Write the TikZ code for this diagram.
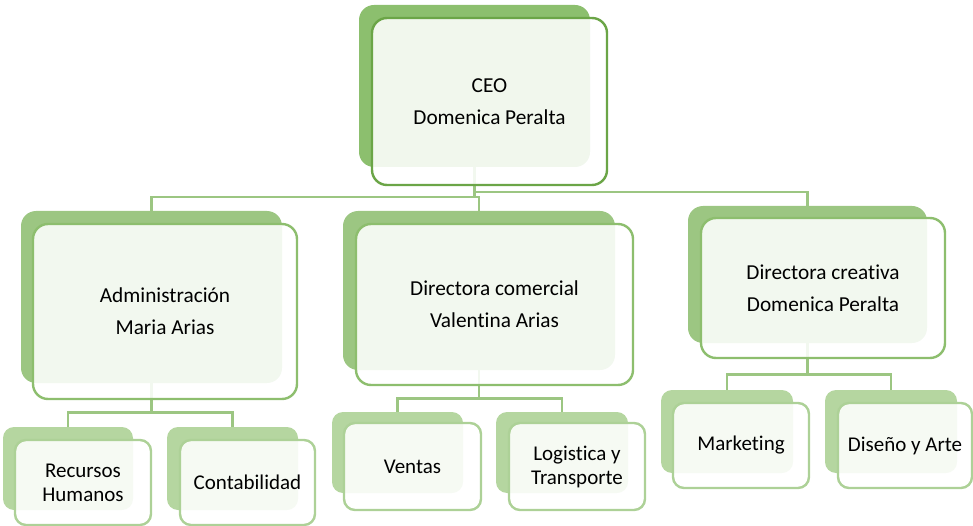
\documentclass[tikz,border=0pt]{standalone}
\usepackage{fontspec}
\setmainfont[Ligatures={NoCommon}]{Carlito}
\definecolor{backA}{HTML}{8CBF6E}
\definecolor{lineA}{HTML}{6BA547}
\definecolor{backB}{HTML}{9CC682}
\definecolor{lineB}{HTML}{8DBE6E}
\definecolor{backC}{HTML}{B5D6A0}
\definecolor{lineC}{HTML}{ADD197}
\definecolor{connC}{HTML}{9CC682}
\tikzset{
  backbox/.style={rectangle, rounded corners=15pt, inner sep=0pt},
  frontbox/.style={rectangle, rounded corners=15pt, fill=white, fill opacity=0.88, text opacity=1, line width=2.4pt, inner sep=0pt, align=center, font=\fontsize{21.3}{32}\selectfont},
  backA/.style={backbox, fill=backA},
  backB/.style={backbox, fill=backB},
  backC/.style={backbox, fill=backC, rounded corners=11pt},
  frontA/.style={frontbox, draw=lineA},
  frontB/.style={frontbox, draw=lineB},
  frontC/.style={frontbox, draw=lineC, rounded corners=11pt, font=\fontsize{21}{24}\selectfont},
  conn/.style={draw=connC, line width=2.6pt}
}
\begin{document}
\begin{tikzpicture}[x=1pt,y=-1pt]
\useasboundingbox (0,0) rectangle (973,526);
% back boxes
\node[backA, minimum width=231, minimum height=162] (ceoB) at (474.5,86) {};
\node[backB, minimum width=261, minimum height=172] (admB) at (151.5,297) {};
\node[backB, minimum width=272, minimum height=159] (comB) at (479,290.5) {};
\node[backB, minimum width=239, minimum height=137] (creB) at (807.5,274.5) {};
\node[backC, minimum width=130, minimum height=83] (rhB) at (68,468.5) {};
\node[backC, minimum width=131, minimum height=83] (conB) at (232.5,468.5) {};
\node[backC, minimum width=131, minimum height=81] (venB) at (397.5,452.5) {};
\node[backC, minimum width=132, minimum height=81] (logB) at (562,452.5) {};
\node[backC, minimum width=132, minimum height=83] (mktB) at (727,431.5) {};
\node[backC, minimum width=132, minimum height=83] (disB) at (891,431.5) {};
% connectors
\draw[conn] (ceoB.south) -- ++(0,30) -| (admB.north);
\draw[conn] (ceoB.south) -- ++(0,30) -| (comB.north);
\draw[conn] (ceoB.south) -- ++(0,25) -| (creB.north);
\draw[conn] (admB.south) -- ++(0,29) -| (rhB.north);
\draw[conn] (admB.south) -- ++(0,29) -| (conB.north);
\draw[conn] (comB.south) -- ++(0,28) -| (venB.north);
\draw[conn] (comB.south) -- ++(0,28) -| (logB.north);
\draw[conn] (creB.south) -- ++(0,31) -| (mktB.north);
\draw[conn] (creB.south) -- ++(0,31) -| (disB.north);
% front boxes
\node[frontA, minimum width=235, minimum height=167] (ceo) at (489.5,101.5) {CEO\\Domenica Peralta};
\node[frontB, minimum width=264, minimum height=175] (adm) at (165,311.5) {Administración\\Maria Arias};
\node[frontB, minimum width=277, minimum height=161] (com) at (494.5,304.5) {Directora comercial\\Valentina Arias};
\node[frontB, minimum width=244, minimum height=140] (cre) at (823,288) {Directora creativa\\Domenica Peralta};
\node[frontC, minimum width=136, minimum height=85] (rh) at (83,482.5) {Recursos\\Humanos};
\node[frontC, minimum width=135, minimum height=85] (con) at (247.5,482.5) {Contabilidad};
\node[frontC, minimum width=137, minimum height=87] (ven) at (412.5,466.5) {Ventas};
\node[frontC, minimum width=136, minimum height=87] (log) at (577,466.5) {Logistica y\\Transporte};
\node[frontC, minimum width=136, minimum height=85] (mkt) at (741,445.5) {Marketing};
\node[frontC, minimum width=134, minimum height=85] (dis) at (905,445.5) {Diseño y Arte};
\end{tikzpicture}
\end{document}
